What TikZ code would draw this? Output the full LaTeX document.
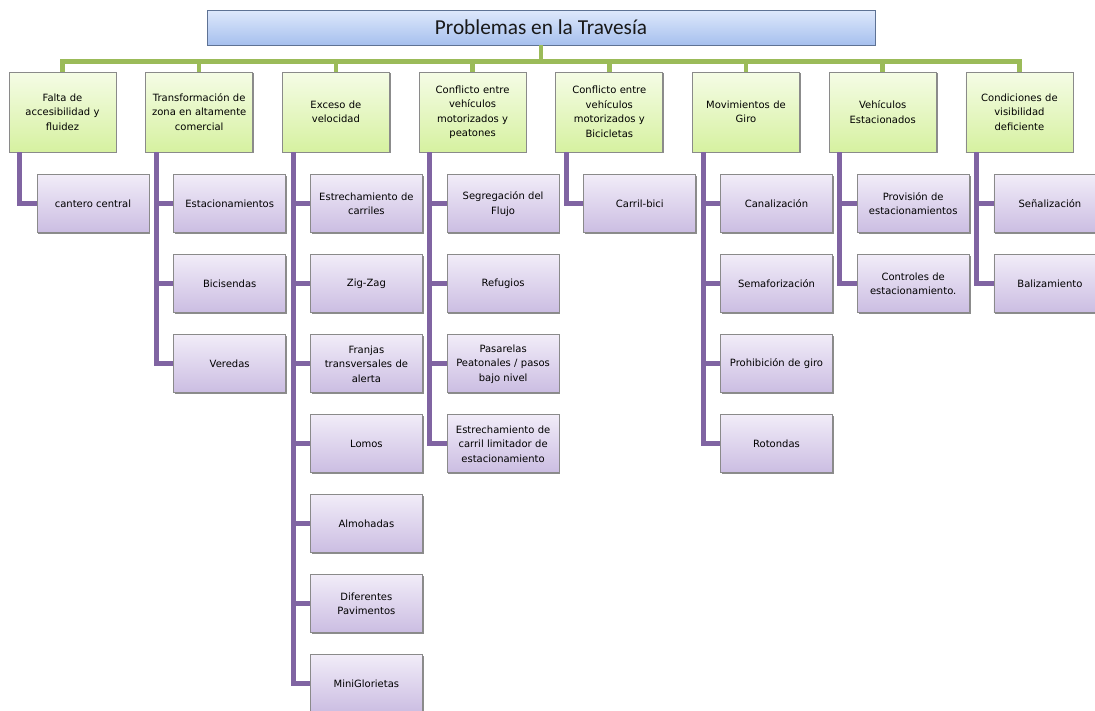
\documentclass[tikz,border=0pt]{standalone}
\usepackage{fontspec}
\setmainfont{DejaVu Sans}
\newfontfamily\titlefont{Carlito}
\usetikzlibrary{positioning,shadows}
\definecolor{BusGreen}{HTML}{9BBB59}
\definecolor{SpinePurple}{HTML}{8064A2}
\definecolor{PaleLime}{HTML}{F5FCE6}
\definecolor{Lime}{HTML}{D6F1A0}
\definecolor{PaleLilac}{HTML}{F1ECF8}
\definecolor{Lilac}{HTML}{CBBDE2}
\definecolor{PaleBlue}{HTML}{DEE8FB}
\definecolor{SkyBlue}{HTML}{A6C0EE}
\definecolor{FrameGray}{HTML}{8A8A8A}
\definecolor{TitleFrame}{HTML}{5E7294}

\begin{document}
\begin{tikzpicture}[x=1pt, y=1pt, node distance=21.2pt,
    box/.style={draw=FrameGray, line width=0.8pt, align=center, inner sep=0pt,
      font=\fontsize{10}{14.5}\selectfont,
      drop shadow={shadow xshift=1.3pt, shadow yshift=-1.3pt, fill=black!75, opacity=0.6}},
    topic/.style={box, top color=PaleLime, bottom color=Lime, text width=101pt, minimum width=107pt, minimum height=80pt},
    measure/.style={box, top color=PaleLilac, bottom color=Lilac, text width=106pt, minimum width=112pt, minimum height=58pt},
    bus/.style={BusGreen, line width=4.5pt},
    spine/.style={SpinePurple, line width=5pt}]
    \useasboundingbox (0,0) rectangle (1095,-710);

    \node[draw=TitleFrame, line width=0.8pt, top color=PaleBlue, bottom color=SkyBlue, minimum width=668pt, minimum height=35pt, inner sep=0pt, text=black!90, font=\titlefont\fontsize{21.3}{24}\selectfont] (title) at (541,-27.5) {Problemas en la Travesía};

    % problemas
    \node[topic] (acceso) at (62.5,-112) {Falta de\\accesibilidad y\\fluidez};
    \node[topic, right=28.9pt of acceso] (comercio) {Transformación de\\zona en altamente\\comercial};
    \node[topic, right=28.9pt of comercio] (velocidad) {Exceso de\\velocidad};
    \node[topic, right=28.9pt of velocidad] (peatones) {Conflicto entre\\vehículos\\motorizados y\\peatones};
    \node[topic, right=28.9pt of peatones] (bicis) {Conflicto entre\\vehículos\\motorizados y\\Bicicletas};
    \node[topic, right=28.9pt of bicis] (giro) {Movimientos de\\Giro};
    \node[topic, right=28.9pt of giro] (parking) {Vehículos\\Estacionados};
    \node[topic, right=28.9pt of parking] (visibilidad) {Condiciones de\\visibilidad\\deficiente};

    % medidas
    \node[measure, anchor=north west] (cantero) at ([xshift=28pt, yshift=-22pt]acceso.south west) {cantero central};

    \node[measure, anchor=north west] (estac) at ([xshift=28pt, yshift=-22pt]comercio.south west) {Estacionamientos};
    \node[measure, below=of estac] (bicisendas) {Bicisendas};
    \node[measure, below=of bicisendas] (veredas) {Veredas};

    \node[measure, anchor=north west] (carriles) at ([xshift=28pt, yshift=-22pt]velocidad.south west) {Estrechamiento de\\carriles};
    \node[measure, below=of carriles] (zigzag) {Zig-Zag};
    \node[measure, below=of zigzag] (franjas) {Franjas\\transversales de\\alerta};
    \node[measure, below=of franjas] (lomos) {Lomos};
    \node[measure, below=of lomos] (almohadas) {Almohadas};
    \node[measure, below=of almohadas] (pavimentos) {Diferentes\\Pavimentos};
    \node[measure, below=of pavimentos] (glorietas) {MiniGlorietas};

    \node[measure, anchor=north west] (flujo) at ([xshift=28pt, yshift=-22pt]peatones.south west) {Segregación del\\Flujo};
    \node[measure, below=of flujo] (refugios) {Refugios};
    \node[measure, below=of refugios] (pasarelas) {Pasarelas\\Peatonales / pasos\\bajo nivel};
    \node[measure, below=of pasarelas] (limitador) {Estrechamiento de\\carril limitador de\\estacionamiento};

    \node[measure, anchor=north west] (carrilbici) at ([xshift=28pt, yshift=-22pt]bicis.south west) {Carril-bici};

    \node[measure, anchor=north west] (canal) at ([xshift=28pt, yshift=-22pt]giro.south west) {Canalización};
    \node[measure, below=of canal] (semaforo) {Semaforización};
    \node[measure, below=of semaforo] (prohibicion) {Prohibición de giro};
    \node[measure, below=of prohibicion] (rotondas) {Rotondas};

    \node[measure, anchor=north west] (provision) at ([xshift=28pt, yshift=-22pt]parking.south west) {Provisión de\\estacionamientos};
    \node[measure, below=of provision] (controles) {Controles de\\estacionamiento.};

    \node[measure, anchor=north west] (senal) at ([xshift=28pt, yshift=-22pt]visibilidad.south west) {Señalización};
    \node[measure, below=of senal] (baliza) {Balizamiento};

    % conectores
    \foreach \t in {acceso,comercio,velocidad,peatones,bicis,giro,parking,visibilidad}
      \draw[bus] (title.south) -- ++(0,-16) -| (\t.north);

    \draw[spine] ([xshift=11pt]acceso.south west) |- (cantero.west);
    \foreach \m in {estac,bicisendas,veredas}
      \draw[spine] ([xshift=11pt]comercio.south west) |- (\m.west);
    \foreach \m in {carriles,zigzag,franjas,lomos,almohadas,pavimentos,glorietas}
      \draw[spine] ([xshift=11pt]velocidad.south west) |- (\m.west);
    \foreach \m in {flujo,refugios,pasarelas,limitador}
      \draw[spine] ([xshift=11pt]peatones.south west) |- (\m.west);
    \draw[spine] ([xshift=11pt]bicis.south west) |- (carrilbici.west);
    \foreach \m in {canal,semaforo,prohibicion,rotondas}
      \draw[spine] ([xshift=11pt]giro.south west) |- (\m.west);
    \foreach \m in {provision,controles}
      \draw[spine] ([xshift=11pt]parking.south west) |- (\m.west);
    \foreach \m in {senal,baliza}
      \draw[spine] ([xshift=11pt]visibilidad.south west) |- (\m.west);
  \end{tikzpicture}
\end{document}
